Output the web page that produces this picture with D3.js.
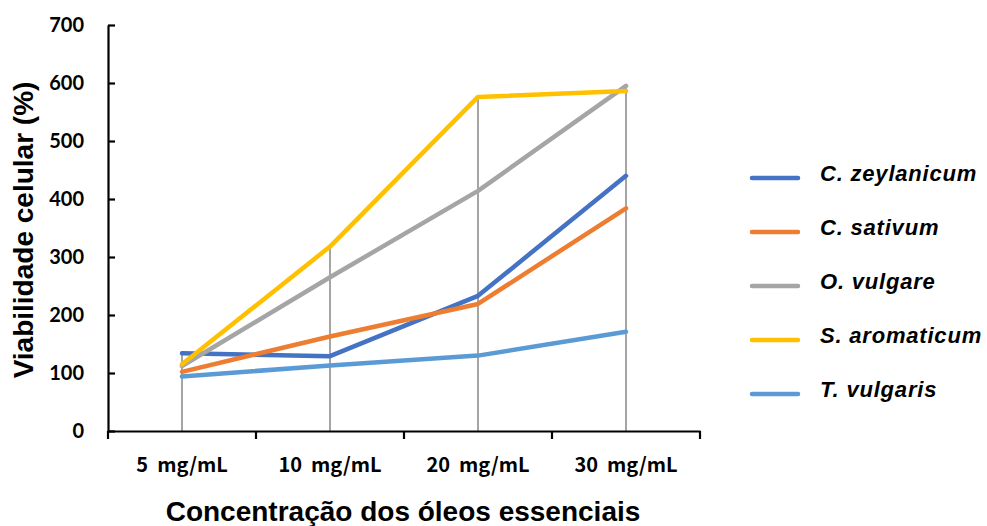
<!DOCTYPE html>
<html><head><meta charset="utf-8">
<script src="https://cdn.jsdelivr.net/npm/d3@7"></script>
<style>
html,body{margin:0;padding:0;background:#fff;}
svg{display:block;}
</style></head>
<body>
<svg id="chart" width="987" height="526"></svg>
<script>
const categories = ["5\u00A0\u00A0mg/mL", "10\u00A0\u00A0mg/mL", "20\u00A0\u00A0mg/mL", "30\u00A0\u00A0mg/mL"];
const seriesNames = ["C. zeylanicum", "C. sativum", "O. vulgare", "S. aromaticum", "T. vulgaris"];
const seriesColors = ["#4472C4", "#ED7D31", "#A5A5A5", "#FFC000", "#5B9BD5"];
const zeylanicum = [134, 129, 233, 440];
const sativum = [102, 163, 219, 384];
const vulgare = [112, 265, 414, 595];
const aromaticum = [115, 318, 576, 586];
const tvulgaris = [94, 113, 130, 171];
const yTicks = [0, 100, 200, 300, 400, 500, 600, 700];
const yTitle = "Viabilidade celular (%)";
const xTitle = "Concentração dos óleos essenciais";

const allSeries = [zeylanicum, sativum, vulgare, aromaticum, tvulgaris];

const svg = d3.select("#chart");
const x = d3.scaleBand().domain(categories).range([108, 700]).padding(0);
const y = d3.scaleLinear().domain([0, 700]).range([431, 25]);

// drop lines
const maxes = categories.map((c, i) => d3.max(allSeries, s => s[i]));
svg.append("g").selectAll("line").data(categories).join("line")
  .attr("x1", d => x(d) + x.bandwidth() / 2)
  .attr("x2", d => x(d) + x.bandwidth() / 2)
  .attr("y1", (d, i) => y(maxes[i]))
  .attr("y2", y(0))
  .attr("stroke", "#A5A5A5").attr("stroke-width", 2);

// y axis
const yAxis = svg.append("g").attr("transform", "translate(108,0)")
  .call(d3.axisLeft(y).tickValues(yTicks).tickSizeInner(-7).tickSizeOuter(0).tickPadding(24));
yAxis.select(".domain").attr("stroke", "#000").attr("stroke-width", 2.2);
yAxis.selectAll(".tick line").attr("stroke", "#000").attr("stroke-width", 2.2);
yAxis.selectAll(".tick text")
  .attr("font-family", "Lato, 'Liberation Sans', sans-serif")
  .attr("font-weight", "bold").attr("font-size", 20).attr("fill", "#000");

// x axis
const xAxis = svg.append("g").attr("transform", "translate(0,431)")
  .call(d3.axisBottom(x).tickSize(0).tickPadding(27));
xAxis.select(".domain").attr("stroke", "#000").attr("stroke-width", 2.2);
xAxis.selectAll(".tick text")
  .attr("font-family", "'Noto Sans CJK JP', 'Noto Sans', sans-serif")
  .attr("font-weight", "bold").attr("font-size", 20).attr("fill", "#000");
const edges = categories.map(c => x(c)).concat([x(categories[categories.length - 1]) + x.bandwidth()]);
xAxis.selectAll(".edge").data(edges).join("line").attr("class", "edge")
  .attr("x1", d => d).attr("x2", d => d).attr("y1", 0).attr("y2", 8)
  .attr("stroke", "#000").attr("stroke-width", 2.2);

// series lines
const line = d3.line().x((d, i) => x(categories[i]) + x.bandwidth() / 2).y(d => y(d));
svg.append("g").selectAll("path").data(allSeries).join("path")
  .attr("d", d => line(d))
  .attr("fill", "none")
  .attr("stroke", (d, i) => seriesColors[i])
  .attr("stroke-width", 4.5)
  .attr("stroke-linecap", "round")
  .attr("stroke-linejoin", "round");

// axis titles
svg.append("text").attr("transform", "translate(33,230) rotate(-90)")
  .attr("text-anchor", "middle")
  .attr("font-family", "'Liberation Sans', Arial, sans-serif")
  .attr("font-weight", "bold").attr("font-size", 28).text(yTitle);
svg.append("text").attr("x", 403).attr("y", 521)
  .attr("text-anchor", "middle")
  .attr("font-family", "'Liberation Sans', Arial, sans-serif")
  .attr("font-weight", "bold").attr("font-size", 28).text(xTitle);

// legend
const leg = svg.append("g").selectAll("g").data(seriesNames).join("g")
  .attr("transform", (d, i) => `translate(0,${178 + i * 54})`);
leg.append("line").attr("x1", 752).attr("x2", 798).attr("y1", 0).attr("y2", 0)
  .attr("stroke", (d, i) => seriesColors[i]).attr("stroke-width", 4.5)
  .attr("stroke-linecap", "round");
leg.append("text").attr("x", 820).attr("y", 3)
  .attr("font-family", "'Liberation Sans', Arial, sans-serif")
  .attr("font-weight", "bold").attr("font-style", "italic").attr("font-size", 22)
  .attr("letter-spacing", 0.8)
  .text(d => d);
</script>
</body></html>
